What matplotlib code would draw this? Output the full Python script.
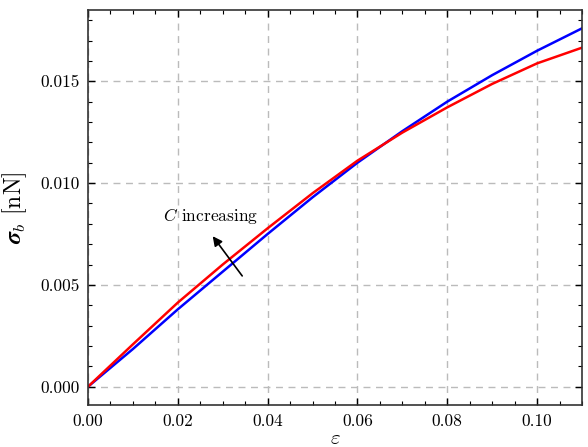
import numpy as np
import matplotlib
matplotlib.use("Agg")
import matplotlib.pyplot as plt
from matplotlib.ticker import MultipleLocator

plt.rcParams['font.family'] = ['cmr10', 'DejaVu Serif']
plt.rcParams['mathtext.fontset'] = 'cm'
plt.rcParams['axes.unicode_minus'] = False

# strain values and stress curves
eps = [0.00, 0.01, 0.02, 0.03, 0.04, 0.05, 0.06, 0.07, 0.08, 0.09, 0.10, 0.11]
sig_red = [0.0, 0.00208, 0.00413, 0.00600, 0.00778, 0.00950, 0.01110,
           0.01248, 0.01372, 0.01487, 0.01588, 0.01665]
sig_blue = [0.0, 0.00185, 0.00380, 0.00565, 0.00750, 0.00930, 0.01100,
            0.01255, 0.01400, 0.01530, 0.01650, 0.01760]

xticks = [0.00, 0.02, 0.04, 0.06, 0.08, 0.10]
yticks = [0.000, 0.005, 0.010, 0.015]

fig = plt.figure(figsize=(5.88, 4.47), dpi=100)
ax = fig.add_axes([0.1497, 0.094, 0.8401, 0.8836])

ax.plot(eps, sig_blue, color='#0000ff', lw=1.8)
ax.plot(eps, sig_red, color='#ff0000', lw=1.8)

ax.set_xlim(0, 0.11)
ax.set_ylim(-0.0009, 0.0185)
ax.set_xticks(xticks)
ax.set_yticks(yticks)
ax.set_xticklabels(['%.2f' % v for v in xticks])
ax.set_yticklabels(['%.3f' % v for v in yticks])
ax.xaxis.set_minor_locator(MultipleLocator(0.005))
ax.yaxis.set_minor_locator(MultipleLocator(0.001))
ax.tick_params(which='both', direction='in', top=True, right=True, labelsize=12.5)
ax.tick_params(which='major', length=5, width=1, pad=6)
ax.tick_params(which='minor', length=3, width=0.8)
for s in ax.spines.values():
    s.set_linewidth(1.2)
    s.set_color('#333333')

ax.grid(True, which='major', color='#bbbbbb', ls=(0, (5, 4)), lw=1)

ax.set_xlabel(r'$\varepsilon$', fontsize=15, labelpad=1)
ax.set_ylabel(r'$\boldsymbol{\sigma}_b$ [nN]', fontsize=17, labelpad=8)

ax.annotate('', xy=(0.0274, 0.0075), xytext=(0.0347, 0.00533),
            arrowprops=dict(arrowstyle='-|>', color='black', lw=1.2, mutation_scale=14))
ax.text(0.0272, 0.0084, r'$C$ increasing', fontsize=12.5, ha='center', va='center')

fig.savefig('out.png', dpi=100)
